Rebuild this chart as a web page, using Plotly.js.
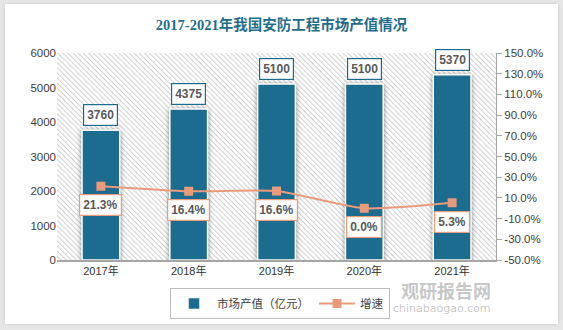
<!DOCTYPE html>
<html>
<head>
<meta charset="utf-8">
<script src="https://cdn.plot.ly/plotly-3.0.1.min.js"></script>
<style>
  html, body { margin:0; padding:0; background:#e6e6e6; width:563px; height:330px; overflow:hidden; }
  #chart { position:absolute; left:5px; top:4px; width:553px; height:320px; background:#fff; box-shadow:0 0 3px rgba(0,0,0,0.15); }
</style>
</head>
<body>
<div id="chart"></div>
<script>
// ---- data ----
const years = ['2017年', '2018年', '2019年', '2020年', '2021年'];
const marketValue = [3760, 4375, 5100, 5100, 5370];   // 亿元
const growthRate = [21.3, 16.4, 16.6, 0.0, 5.3];      // %
const seriesNames = ['市场产值（亿元）', '增速'];
const rightTickVals = [-50, -30, -10, 10, 30, 50, 70, 90, 110, 130, 150];
const rightTickText = ['-50.0%', '-30.0%', '-10.0%', '10.0%', '30.0%', '50.0%', '70.0%', '90.0%', '110.0%', '130.0%', '150.0%'];
const titleText = '2017-2021年我国安防工程市场产值情况';

const barColor = '#1C6C8F';
const lineColor = '#E99B7C';
const fontSans = 'Liberation Sans, Noto Sans CJK SC, sans-serif';

// hatch background for plot area
const hatchSvg = '<svg xmlns="http://www.w3.org/2000/svg" width="439" height="207" viewBox="0 0 439 207" preserveAspectRatio="none">' +
  '<defs><pattern id="h" patternUnits="userSpaceOnUse" width="3.6" height="3.6" patternTransform="rotate(-45)">' +
  '<rect x="0" y="0" width="1" height="3.6" fill="#cfcfcf"/></pattern></defs>' +
  '<rect width="439" height="207" fill="url(#h)"/></svg>';
const hatchUri = 'data:image/svg+xml;charset=utf-8,' + encodeURIComponent(hatchSvg);

const traces = [
  {
    type: 'bar', x: years, y: marketValue, name: seriesNames[0],
    marker: { color: barColor, line: { color: '#ffffff', width: 1.5 } },
    hoverinfo: 'skip'
  },
  {
    type: 'scatter', mode: 'lines+markers', x: years, y: growthRate, name: seriesNames[1],
    yaxis: 'y2',
    line: { color: lineColor, width: 2, shape: 'spline', smoothing: 0.6 },
    marker: { symbol: 'square', size: 9, color: lineColor },
    hoverinfo: 'skip'
  }
];

const annotations = [];
years.forEach((yr, i) => {
  annotations.push({
    x: yr, y: marketValue[i], xref: 'x', yref: 'y',
    text: String(marketValue[i]), showarrow: false,
    yanchor: 'bottom', yshift: 4,
    font: { family: fontSans, size: 12, color: '#595959', weight: 'bold' },
    bgcolor: '#ffffff', bordercolor: barColor, borderwidth: 1.2, borderpad: 3
  });
  annotations.push({
    x: yr, y: growthRate[i], xref: 'x', yref: 'y2',
    text: growthRate[i].toFixed(1) + '%', showarrow: false,
    yanchor: 'top', yshift: -8,
    font: { family: fontSans, size: 12, color: '#595959', weight: 'bold' },
    bgcolor: '#ffffff', bordercolor: lineColor, borderwidth: 1.2, borderpad: 3
  });
});
// watermark
annotations.push({
  xref: 'paper', yref: 'paper', x: 0.993, y: -0.143, yanchor: 'middle', text: '<b>观研报告网</b>', showarrow: false,
  font: { family: 'Noto Sans CJK SC, sans-serif', size: 18, color: 'rgba(150,150,150,0.55)' }
});
annotations.push({
  xref: 'paper', yref: 'paper', x: 0.993, y: -0.232, yanchor: 'middle', text: 'chinabaogao.com', showarrow: false,
  font: { family: 'DejaVu Sans, sans-serif', size: 11, color: 'rgba(150,150,150,0.55)' }
});

const layout = {
  width: 553, height: 320,
  margin: { l: 52, r: 62, t: 49, b: 64, autoexpand: false },
  paper_bgcolor: '#ffffff', plot_bgcolor: 'rgba(0,0,0,0)',
  title: {
    text: titleText, x: 0.5, xanchor: 'center', y: 0.935, yanchor: 'middle',
    font: { family: 'Liberation Serif, Noto Sans CJK SC, serif', size: 14.5, color: '#1F6E8C', weight: 'bold' }
  },
  bargap: 0.57,
  showlegend: true,
  legend: {
    orientation: 'h', x: 0.508, xanchor: 'center', yref: 'container', y: 0.064, yanchor: 'middle',
    bordercolor: '#bfbfbf', borderwidth: 1, bgcolor: '#ffffff',
    font: { family: fontSans, size: 11.5, color: '#404040' },
    itemwidth: 36, tracegroupgap: 0
  },
  xaxis: {
    type: 'category', showgrid: false, zeroline: false, automargin: false,
    showline: true, linecolor: '#a6a6a6', linewidth: 1.5,
    ticks: '', tickfont: { family: fontSans, size: 11, color: '#333333' }
  },
  yaxis: {
    range: [0, 6000], dtick: 1000, showgrid: false, zeroline: false, showline: false, automargin: false,
    ticks: '', ticklen: 0, tickfont: { family: fontSans, size: 11.5, color: '#404040' }
  },
  yaxis2: {
    overlaying: 'y', side: 'right', range: [-50, 150], automargin: false,
    tickmode: 'array', tickvals: rightTickVals, ticktext: rightTickText,
    showgrid: false, zeroline: false, showline: true, linecolor: '#a6a6a6', linewidth: 1,
    ticks: 'outside', ticklen: 5, tickcolor: '#a6a6a6',
    tickfont: { family: fontSans, size: 11.5, color: '#404040' }
  },
  images: [{
    source: hatchUri, xref: 'paper', yref: 'paper', x: 0, y: 1, sizex: 1, sizey: 1,
    xanchor: 'left', yanchor: 'top', sizing: 'stretch', layer: 'below'
  }],
  annotations: annotations
};

Plotly.newPlot('chart', traces, layout, { displayModeBar: false, staticPlot: true }).then(() => {
  document.querySelectorAll('.barlayer .point path').forEach(p => {
    p.style.filter = 'drop-shadow(0px 1px 2.5px rgba(0,0,0,0.45))';
  });
});
</script>
</body>
</html>
